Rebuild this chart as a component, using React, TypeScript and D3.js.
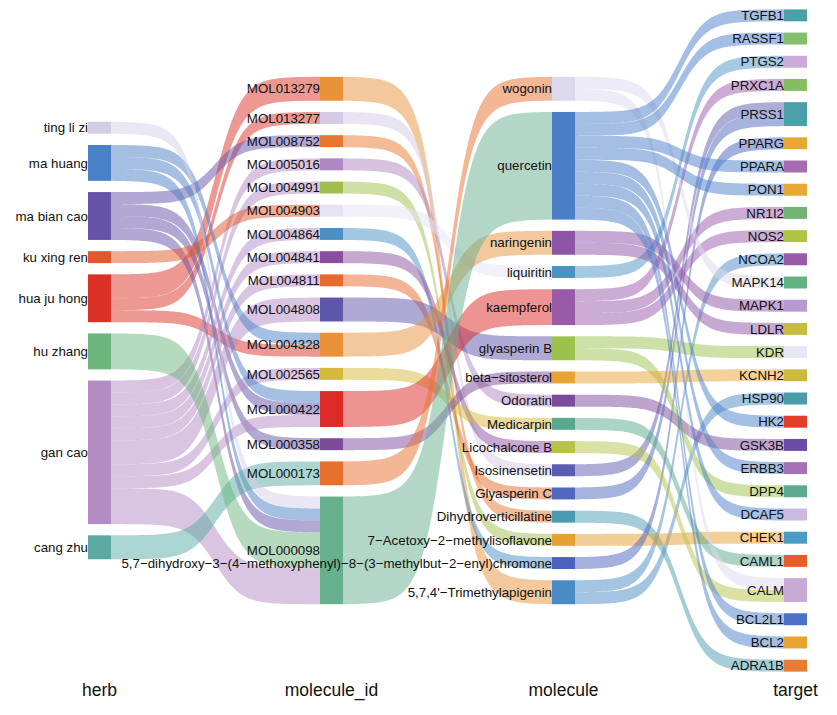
import React from "react";
import * as d3 from "d3";

// ---------- DATA ----------
const stageNames = ["herb", "molecule_id", "molecule", "target"];

const herbs = ["ting li zi", "ma huang", "ma bian cao", "ku xing ren", "hua ju hong", "hu zhang", "gan cao", "cang zhu"];
const herbColors = ["#d5cde8", "#4a80c6", "#6453a8", "#e2582c", "#dc3226", "#6cb57c", "#b48cc4", "#5aa9a2"];

const moleculeIds = [
  "MOL013279", "MOL013277", "MOL008752", "MOL005016", "MOL004991", "MOL004903", "MOL004864", "MOL004841",
  "MOL004811", "MOL004808", "MOL004328", "MOL002565", "MOL000422", "MOL000358", "MOL000173", "MOL000098",
];
const moleculeIdColors = [
  "#e8923a", "#d6cae6", "#e8772e", "#b087c2", "#9fbf4c", "#e6e3f4", "#4a90c4", "#8b4f9f",
  "#e8692e", "#5e56aa", "#e8913a", "#d5b93c", "#dc2a26", "#7e4b9b", "#e8702e", "#66b08e",
];
// molecule name of each molecule_id (same order as moleculeIds)
const moleculeOfId = [
  "5,7,4'\u2212Trimethylapigenin", "Isosinensetin", "Dihydroverticillatine", "Odoratin",
  "7\u2212Acetoxy\u22122\u2212methylisoflavone", "liquiritin",
  "5,7\u2212dihydroxy\u22123\u2212(4\u2212methoxyphenyl)\u22128\u2212(3\u2212methylbut\u22122\u2212enyl)chromone",
  "Licochalcone B", "Glyasperin C", "glyasperin B", "naringenin", "Medicarpin", "kaempferol",
  "beta\u2212sitosterol", "wogonin", "quercetin",
];

const molecules = [
  "wogonin", "quercetin", "naringenin", "liquiritin", "kaempferol", "glyasperin B", "beta\u2212sitosterol",
  "Odoratin", "Medicarpin", "Licochalcone B", "Isosinensetin", "Glyasperin C", "Dihydroverticillatine",
  "7\u2212Acetoxy\u22122\u2212methylisoflavone",
  "5,7\u2212dihydroxy\u22123\u2212(4\u2212methoxyphenyl)\u22128\u2212(3\u2212methylbut\u22122\u2212enyl)chromone",
  "5,7,4'\u2212Trimethylapigenin",
];
const moleculeColors = [
  "#dcd8ee", "#4a7fc8", "#8e54a6", "#4a94c2", "#9a5aaa", "#9cc24c", "#e8a432",
  "#7b4a9c", "#5aa98e", "#b7c24a", "#5c5cb2", "#5068c0", "#4a9bb2", "#e8a032", "#4a62bc", "#4a8ac6",
];

const targets = [
  "TGFB1", "RASSF1", "PTGS2", "PRXC1A", "PRSS1", "PPARG", "PPARA", "PON1", "NR1I2", "NOS2", "NCOA2",
  "MAPK14", "MAPK1", "LDLR", "KDR", "KCNH2", "HSP90", "HK2", "GSK3B", "ERBB3", "DPP4", "DCAF5",
  "CHEK1", "CAML1", "CALM", "BCL2L1", "BCL2", "ADRA1B",
];
const targetColors = [
  "#4aa0a6", "#84bd6c", "#c9aad8", "#84bd62", "#4a9fa8", "#e6aa34", "#a86ab2", "#e6aa34", "#72b272",
  "#b2c244", "#9a5aaa", "#62b282", "#b898d0", "#c8bb40", "#e5e7f7", "#cdb93c", "#4a9caa", "#e23e2a",
  "#6a4aa2", "#a472b4", "#5caa92", "#cabae2", "#4a9cc2", "#e85c2c", "#c8aad8", "#4a72c6", "#e6a232",
  "#e87c32",
];

// one row per herb -> molecule_id -> target path
const rowHerb = [
  "hua ju hong", "hua ju hong", "hua ju hong", "ma bian cao", "gan cao", "gan cao", "ku xing ren", "gan cao",
  "gan cao", "gan cao", "gan cao", "gan cao", "ma huang", "hua ju hong", "gan cao", "ma huang",
  "ma bian cao", "gan cao", "ma bian cao", "cang zhu", "cang zhu",
  "ting li zi", "ma huang", "ma bian cao", "hu zhang", "hu zhang", "hu zhang", "gan cao", "gan cao", "gan cao",
];
const rowMoleculeId = [
  "MOL013279", "MOL013279", "MOL013277", "MOL008752", "MOL005016", "MOL004991", "MOL004903", "MOL004864",
  "MOL004841", "MOL004811", "MOL004808", "MOL004808", "MOL004328", "MOL004328", "MOL002565", "MOL000422",
  "MOL000422", "MOL000422", "MOL000358", "MOL000173", "MOL000173",
  "MOL000098", "MOL000098", "MOL000098", "MOL000098", "MOL000098", "MOL000098", "MOL000098", "MOL000098", "MOL000098",
];
const rowTarget = [
  "NCOA2", "HSP90", "PRSS1", "ADRA1B", "GSK3B", "CHEK1", "PTGS2", "PPARG",
  "CALM", "PRSS1", "KDR", "DPP4", "MAPK1", "LDLR", "CAML1", "PRXC1A",
  "NR1I2", "NOS2", "KCNH2", "MAPK14", "CALM",
  "TGFB1", "RASSF1", "PPARA", "PON1", "HK2", "ERBB3", "DCAF5", "BCL2L1", "BCL2",
];

// ---------- LAYOUT ----------
const W = 837;
const H = 715;
const NODE_W = 23;
const UNIT = 11.96;
const GAP = 11.24;
const CENTER_Y = 340.5;
const SMOOTH = 8;

type NodeT = { name: string; stage: number; index: number; count: number; y0: number; y1: number; color: string; outY: number; inY: number };
type LinkT = { s: NodeT; t: NodeT; count: number; sy0: number; ty0: number };

function buildLayout() {
  const xCenter = d3.scalePoint<string>().domain(stageNames).range([99.5, 795.5]);
  const unitScale = d3.scaleLinear().domain([0, 1]).range([0, UNIT]);
  const stageLists = [herbs, moleculeIds, molecules, targets];
  const stageColors = [herbColors, moleculeIdColors, moleculeColors, targetColors];
  const rows = rowHerb.map((h, i) => {
    const mi = moleculeIds.indexOf(rowMoleculeId[i]);
    return [h, rowMoleculeId[i], moleculeOfId[mi], rowTarget[i]];
  });

  const nodes: NodeT[][] = stageLists.map((list, s) => {
    const counts = list.map((n) => rows.filter((r) => r[s] === n).length);
    const total = unitScale(d3.sum(counts)) + (list.length - 1) * GAP;
    let y = CENTER_Y - total / 2;
    return list.map((name, i) => {
      const h = unitScale(counts[i]);
      const node = { name, stage: s, index: i, count: counts[i], y0: y, y1: y + h, color: stageColors[s][i], outY: y, inY: y };
      y += h + GAP;
      return node;
    });
  });

  const links: LinkT[] = [];
  for (let s = 0; s < 3; s++) {
    const m = d3.rollup(rows, (v) => v.length, (r) => r[s], (r) => r[s + 1]);
    const stageLinks: LinkT[] = [];
    m.forEach((inner, a) => {
      inner.forEach((c, b) => {
        const sn = nodes[s].find((n) => n.name === a)!;
        const tn = nodes[s + 1].find((n) => n.name === b)!;
        stageLinks.push({ s: sn, t: tn, count: c, sy0: 0, ty0: 0 });
      });
    });
    nodes[s].forEach((n) => {
      stageLinks.filter((l) => l.s === n).sort((a, b) => a.t.index - b.t.index).forEach((l) => {
        l.sy0 = n.outY;
        n.outY += unitScale(l.count);
      });
    });
    nodes[s + 1].forEach((n) => {
      stageLinks.filter((l) => l.t === n).sort((a, b) => a.s.index - b.s.index).forEach((l) => {
        l.ty0 = n.inY;
        n.inY += unitScale(l.count);
      });
    });
    links.push(...stageLinks);
  }
  return { nodes, links, xCenter, unitScale };
}

const logistic = (x: number) => 1 / (1 + Math.exp(-x));

export default function App() {
  const { nodes, links, xCenter, unitScale } = buildLayout();
  const left = (s: number) => (xCenter(stageNames[s]) as number) - NODE_W / 2;
  const area = d3.area<{ x: number; y0: number; y1: number }>().x((d) => d.x).y0((d) => d.y0).y1((d) => d.y1);
  const lo = logistic(-SMOOTH);
  const hi = logistic(SMOOTH);

  const flowPath = (l: LinkT) => {
    const x0 = left(l.s.stage) + NODE_W;
    const x1 = left(l.t.stage);
    const w = unitScale(l.count);
    const pts = d3.range(0, 101).map((i) => {
      const t = i / 100;
      const k = (logistic((2 * t - 1) * SMOOTH) - lo) / (hi - lo);
      const y = l.sy0 + (l.ty0 - l.sy0) * k;
      return { x: x0 + (x1 - x0) * t, y0: y, y1: y + w };
    });
    return area(pts) || "";
  };

  return (
    <div style={{ position: "absolute", left: 0, top: 0, width: W, height: H, background: "#fff" }}>
      <svg width={W} height={H} style={{ display: "block" }} fontFamily="'Liberation Sans', Arial, Helvetica, sans-serif">
        <rect width={W} height={H} fill="#ffffff" />
        <g>
          {links.map((l, i) => (
            <path key={i} d={flowPath(l)} fill={l.s.color} fillOpacity={0.5} stroke="none" />
          ))}
        </g>
        <g>
          {nodes.flat().map((n, i) => (
            <rect key={i} x={left(n.stage)} y={n.y0} width={NODE_W} height={n.y1 - n.y0} fill={n.color} />
          ))}
        </g>
        <g>
          {nodes.flat().map((n, i) => (
            <text key={i} x={left(n.stage)} y={(n.y0 + n.y1) / 2} dy="0.35em" textAnchor="end" fontSize={13.3} fill="#111">
              {n.name}
            </text>
          ))}
        </g>
        <g>
          {stageNames.map((s) => (
            <text key={s} x={xCenter(s) as number} y={690} dy="0.35em" textAnchor="middle" fontSize={17.5} fill="#111">
              {s}
            </text>
          ))}
        </g>
      </svg>
    </div>
  );
}
